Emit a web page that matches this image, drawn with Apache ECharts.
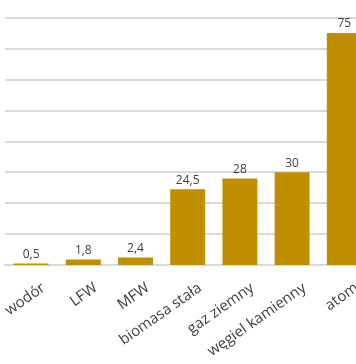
<!DOCTYPE html>
<html>
<head>
<meta charset="utf-8">
<script src="https://cdn.jsdelivr.net/npm/echarts@6/dist/echarts.min.js"></script>
<style>
html,body{margin:0;padding:0;background:#fff;overflow:hidden;}
#c{width:372px;height:364px;}
</style>
</head>
<body>
<div id="c"></div>
<script>
const categories = ["wodór", "LFW", "MFW", "biomasa stała", "gaz ziemny", "węgiel kamienny", "atom"];
const values = [0.5, 1.8, 2.4, 24.5, 28, 30, 75];
const valueLabels = ["0,5", "1,8", "2,4", "24,5", "28", "30", "75"];

const chart = echarts.init(document.getElementById('c'), null, {renderer: 'canvas'});
chart.setOption({
  animation: false,
  backgroundColor: '#ffffff',
  grid: {left: 5, top: 17.5, width: 365.4, height: 247.5, containLabel: false},
  xAxis: {
    type: 'category',
    data: categories,
    axisLine: {show: true, lineStyle: {color: '#d9d9d9', width: 2}},
    axisTick: {show: false},
    axisLabel: {
      interval: 0,
      rotate: 35,
      margin: 21,
      verticalAlign: 'top',
      padding: [0, -10, 0, 0],
      fontFamily: 'Open Sans',
      fontSize: 15,
      color: '#404040'
    }
  },
  yAxis: {
    type: 'value',
    min: 0, max: 80, interval: 10,
    axisLabel: {show: false},
    axisLine: {show: false},
    axisTick: {show: false},
    splitLine: {lineStyle: {color: '#d9d9d9', width: 2}}
  },
  series: [{
    type: 'bar',
    data: values,
    barWidth: 35,
    itemStyle: {color: '#BF8F00'},
    label: {
      show: true,
      position: 'top',
      distance: 3,
      fontFamily: 'Open Sans',
      fontSize: 12,
      color: '#404040',
      formatter: p => valueLabels[p.dataIndex]
    }
  }]
});
</script>
</body>
</html>
